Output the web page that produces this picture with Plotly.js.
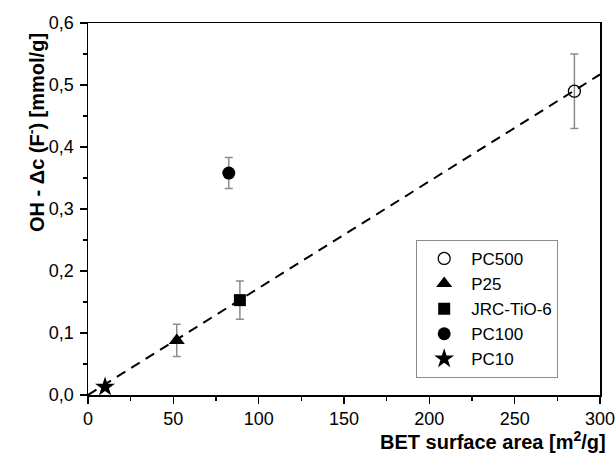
<!DOCTYPE html>
<html>
<head>
<meta charset="utf-8">
<script src="https://cdn.plot.ly/plotly-3.0.1.min.js"></script>
<style>html,body{margin:0;padding:0;background:#fff;}#chart{width:616px;height:457px;}</style>
</head>
<body>
<div id="chart"></div>
<script>
// Data
const samples = ["PC500", "P25", "JRC-TiO-6", "PC100", "PC10"];
const betArea = [285, 52, 89, 82.5, 10];          // m²/g
const ohDelta = [0.49, 0.088, 0.153, 0.358, 0.013]; // mmol/g
const ohError = [0.06, 0.026, 0.031, 0.025, 0];
const symbols = ["circle-open", "triangle-up", "square", "circle", "star"];
const sizes = [12, 14, 12, 13, 15];
// Linear fit (dashed line)
const fitX = [0, 300];
const fitY = [0, 0.517];

const traces = [{
  x: fitX, y: fitY, mode: "lines", showlegend: false, hoverinfo: "skip",
  line: {color: "#000", width: 2, dash: "10px,7px"}
}];
samples.forEach((s, i) => {
  traces.push({
    x: [betArea[i]], y: [ohDelta[i]], name: s, mode: "markers",
    marker: {symbol: symbols[i], size: sizes[i], color: "#000", line: {color: "#000", width: i === 0 ? 1.3 : 0}},
    error_y: {type: "data", array: [ohError[i]], visible: ohError[i] > 0, color: "#8c8c8c", thickness: 1.5, width: 4}
  });
});

const fam = "Liberation Sans, Arial, sans-serif";
const tickFont = {family: fam, size: 18, color: "#000"};
const legFont = {family: fam, size: 17, color: "#000"};
const titleFont = {family: fam, size: 20, color: "#000"};
const layout = {
  width: 616, height: 457,
  margin: {l: 88, r: 16, t: 23, b: 62},
  paper_bgcolor: "#fff", plot_bgcolor: "#fff",
  separators: ",.",
  font: tickFont,
  showlegend: true,
  xaxis: {
    range: [0, 300], dtick: 50, tick0: 0, ticks: "outside", ticklen: 7, tickwidth: 1.5, tickcolor: "#000",
    minor: {dtick: 25, ticks: "outside", ticklen: 4, tickwidth: 1.5, tickcolor: "#000"},
    showline: true, linecolor: "#000", linewidth: 1.5, mirror: true, showgrid: false, zeroline: false,
    tickfont: tickFont
  },
  yaxis: {
    range: [0, 0.6], dtick: 0.1, tick0: 0, tickformat: ".1f", ticks: "outside", ticklen: 7, tickwidth: 1.5, tickcolor: "#000",
    minor: {dtick: 0.05, ticks: "outside", ticklen: 4, tickwidth: 1.5, tickcolor: "#000"},
    showline: true, linecolor: "#000", linewidth: 1.5, mirror: true, showgrid: false, zeroline: false,
    tickfont: tickFont, ticklabelstandoff: 2
  },
  legend: {
    x: 0.641, y: 0.417, xanchor: "left", yanchor: "top",
    bordercolor: "#8c8c8c", borderwidth: 1, bgcolor: "#fff",
    font: legFont, itemwidth: 44, tracegroupgap: 0
  },
  annotations: [
    {text: "<b>OH - Δc (F<sup>-</sup>) [mmol/g]</b>", xref: "paper", yref: "paper", x: -0.103, y: 0.705,
     textangle: -90, showarrow: false, xanchor: "center", yanchor: "middle", font: titleFont},
    {text: "<b>BET surface area [m<sup>2</sup>/g]</b>", xref: "paper", yref: "paper", x: 1.016, y: -0.121,
     showarrow: false, xanchor: "right", yanchor: "middle", font: titleFont}
  ]
};
Plotly.newPlot("chart", traces, layout, {displayModeBar: false, staticPlot: true});
</script>
</body>
</html>
